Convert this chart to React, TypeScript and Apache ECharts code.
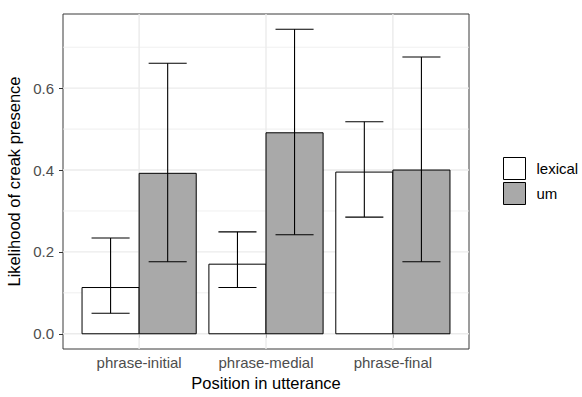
import React, { useEffect, useRef } from "react";
import * as echarts from "echarts";

const categories = ["phrase-initial", "phrase-medial", "phrase-final"];
const lexicalMean = [0.113, 0.17, 0.395];
const lexicalLower = [0.05, 0.113, 0.285];
const lexicalUpper = [0.234, 0.249, 0.518];
const umMean = [0.392, 0.491, 0.4];
const umLower = [0.176, 0.242, 0.176];
const umUpper = [0.661, 0.744, 0.676];
const yTicks = [0, 0.2, 0.4, 0.6];
const yMinor = [0.1, 0.3, 0.5, 0.7];
const xTicks = [1, 2, 3];

const FONT = "'Liberation Sans', Arial, Helvetica, sans-serif";
const LEX_COLOR = "#FFFFFF";
const UM_COLOR = "#A9A9A9";

function barRender(offset: number, color: string) {
  return (params: any, api: any) => {
    const x = api.value(0);
    const y = api.value(1);
    const p0 = api.coord([x + offset - 0.225, y]);
    const p1 = api.coord([x + offset + 0.225, 0]);
    return {
      type: "rect",
      shape: { x: p0[0], y: p0[1], width: p1[0] - p0[0], height: p1[1] - p0[1] },
      style: { fill: color, stroke: "#000", lineWidth: 1 },
    };
  };
}

function errRender(offset: number) {
  return (params: any, api: any) => {
    const x = api.value(0) + offset;
    const lo = api.value(1);
    const hi = api.value(2);
    const top = api.coord([x, hi]);
    const bot = api.coord([x, lo]);
    const capL = api.coord([x - 0.15, hi]);
    const capR = api.coord([x + 0.15, hi]);
    const capL2 = api.coord([x - 0.15, lo]);
    const capR2 = api.coord([x + 0.15, lo]);
    const st = { stroke: "#000", lineWidth: 1.1 };
    return {
      type: "group",
      children: [
        { type: "line", shape: { x1: top[0], y1: top[1], x2: bot[0], y2: bot[1] }, style: st },
        { type: "line", shape: { x1: capL[0], y1: capL[1], x2: capR[0], y2: capR[1] }, style: st },
        { type: "line", shape: { x1: capL2[0], y1: capL2[1], x2: capR2[0], y2: capR2[1] }, style: st },
      ],
    };
  };
}

function gridRender(params: any, api: any) {
  const cs = params.coordSys;
  const kind = api.value(0); // 0 = horizontal, 1 = vertical
  const v = api.value(1);
  const major = api.value(2);
  const st = { stroke: "#EBEBEB", lineWidth: major ? 1.4 : 0.8 };
  if (kind === 0) {
    const p = api.coord([1, v]);
    return { type: "line", shape: { x1: cs.x, y1: p[1], x2: cs.x + cs.width, y2: p[1] }, style: st };
  }
  const p = api.coord([v, 0]);
  return { type: "line", shape: { x1: p[0], y1: cs.y, x2: p[0], y2: cs.y + cs.height }, style: st };
}

export default function App() {
  const ref = useRef<HTMLDivElement>(null);
  useEffect(() => {
    if (!ref.current) return;
    const chart = echarts.init(ref.current, undefined, { renderer: "svg" });
    const gridData: number[][] = [
      ...yMinor.map((v) => [0, v, 0]),
      ...yTicks.map((v) => [0, v, 1]),
      ...xTicks.map((v) => [1, v, 1]),
    ];
    chart.setOption({
      animation: false,
      backgroundColor: "#fff",
      textStyle: { fontFamily: FONT },
      grid: {
        left: 63,
        top: 14,
        right: 113,
        bottom: 48,
        containLabel: false,
        outerBoundsMode: "none",
        show: true,
        backgroundColor: "#fff",
        borderColor: "#3a3a3a",
        borderWidth: 1,
        z: 0,
      },
      legend: {
        orient: "vertical",
        left: 503,
        top: 157,
        padding: 0,
        itemWidth: 22,
        itemHeight: 22,
        itemGap: 2,
        icon: "rect",
        data: ["lexical", "um"],
        itemStyle: { borderColor: "#000", borderWidth: 1 },
        textStyle: { fontFamily: FONT, fontSize: 15, color: "#000", padding: [0, 0, 0, 6] },
      },
      xAxis: {
        type: "value",
        min: 0.4,
        max: 3.6,
        name: "Position in utterance",
        nameLocation: "middle",
        nameGap: 24,
        nameTextStyle: { fontFamily: FONT, fontSize: 16.5, color: "#000" },
        axisLine: { show: false },
        splitLine: { show: false },
        axisTick: { show: true, customValues: xTicks, length: 4, lineStyle: { color: "#333333" } },
        axisLabel: {
          customValues: xTicks,
          formatter: (v: number) => categories[Math.round(v) - 1],
          fontFamily: FONT,
          fontSize: 15,
          color: "#4D4D4D",
          margin: 6,
        },
      },
      yAxis: {
        type: "value",
        min: -0.0372,
        max: 0.7812,
        name: "Likelihood of creak presence",
        nameLocation: "middle",
        nameGap: 37,
        nameTextStyle: { fontFamily: FONT, fontSize: 16.5, color: "#000" },
        axisLine: { show: false },
        splitLine: { show: false },
        axisTick: { show: true, customValues: yTicks, length: 4, lineStyle: { color: "#333333" } },
        axisLabel: {
          customValues: yTicks,
          formatter: (v: number) => v.toFixed(1),
          fontFamily: FONT,
          fontSize: 15,
          color: "#4D4D4D",
          margin: 9,
        },
      },
      series: [
        {
          name: "grid",
          type: "custom",
          renderItem: gridRender,
          data: gridData,
          silent: true,
          z: 1,
          clip: true,
        },
        {
          name: "lexical",
          type: "custom",
          renderItem: barRender(-0.225, LEX_COLOR),
          itemStyle: { color: LEX_COLOR, borderColor: "#000", borderWidth: 1 },
          data: lexicalMean.map((v, i) => [i + 1, v]),
          z: 2,
        },
        {
          name: "um",
          type: "custom",
          renderItem: barRender(0.225, UM_COLOR),
          itemStyle: { color: UM_COLOR, borderColor: "#000", borderWidth: 1 },
          data: umMean.map((v, i) => [i + 1, v]),
          z: 2,
        },
        {
          name: "lexical CI",
          type: "custom",
          renderItem: errRender(-0.225),
          data: lexicalLower.map((v, i) => [i + 1, v, lexicalUpper[i]]),
          z: 3,
        },
        {
          name: "um CI",
          type: "custom",
          renderItem: errRender(0.225),
          data: umLower.map((v, i) => [i + 1, v, umUpper[i]]),
          z: 3,
        },
      ],
    });
    return () => chart.dispose();
  }, []);
  return (
    <div
      ref={ref}
      style={{ position: "fixed", left: 0, top: 0, width: 582, height: 397 }}
    />
  );
}
